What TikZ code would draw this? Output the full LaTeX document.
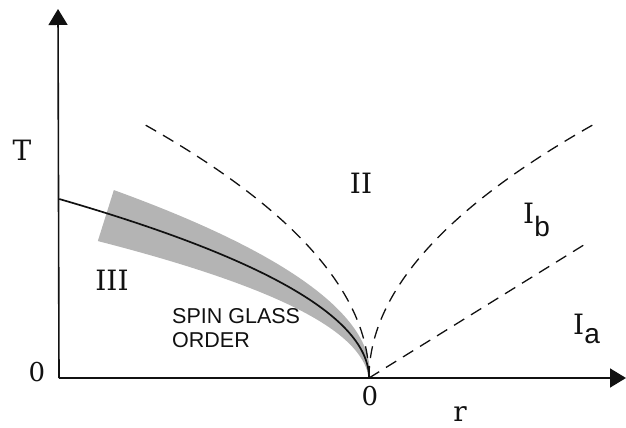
\documentclass[tikz,border=0pt]{standalone}
\usepackage{fontspec}
\setmainfont{DejaVu Serif}
\newfontfamily\pdSans{Liberation Sans}
\usetikzlibrary{
  arrows.meta
}
\definecolor{pdInk}{HTML}{111111}
\definecolor{pdBand}{HTML}{B4B4B4}
\tikzset{
  lbl/.style={font=\fontsize{28}{32}\selectfont, text=pdInk, inner sep=0pt},
  zero/.style={font=\fontsize{26}{30}\selectfont, text=pdInk, inner sep=0pt},
  note/.style={font=\fontsize{21.5}{24}\selectfont\pdSans, text=pdInk, align=left, inner sep=0pt},
  axisline/.style={-{Triangle[length=16pt, width=19pt]}, line width=1.6pt, draw=pdInk},
  critline/.style={line width=1.7pt, draw=pdInk},
  crossline/.style={line width=1.3pt, draw=pdInk, dash pattern=on 12pt off 8pt},
  band/.style={fill=pdBand, draw=none}
}

\begin{document}
\begin{tikzpicture}[x=1pt,y=1pt]

\useasboundingbox (-59,-50) rectangle (567,378);

% --------------------------------------------------------------------------
% Coordinates
% --------------------------------------------------------------------------
\coordinate (origin) at (0,0);
\coordinate (Ttip) at (-1,369);
\coordinate (rtip) at (567,0);
\coordinate (qcp) at (310,0);
\coordinate (Iaend) at (528,135);

% --------------------------------------------------------------------------
% Shaded band round the spin glass line
% --------------------------------------------------------------------------
\fill[band]
  plot[domain=0:16.2, samples=60, variable=\t]
    ({310-\t*\t+1.5*\t*10.17/sqrt(103.4+4*\t*\t)},
     {10.17*\t+1.5*\t*2*\t/sqrt(103.4+4*\t*\t)})
  -- plot[domain=16.2:0, samples=60, variable=\t]
    ({310-\t*\t-1.8*\t*10.17/sqrt(103.4+4*\t*\t)},
     {10.17*\t-1.8*\t*2*\t/sqrt(103.4+4*\t*\t)})
  -- cycle;

% --------------------------------------------------------------------------
% Axes
% --------------------------------------------------------------------------
\draw[axisline] (origin) -- (Ttip);
\draw[axisline] (origin) -- (rtip);

% --------------------------------------------------------------------------
% Crossover lines and the spin glass line
% --------------------------------------------------------------------------
\draw[crossline] (qcp) -- plot[domain=0:255, samples=50, variable=\h]
  ({310-0.0035*\h*\h}, {\h});
\draw[crossline] (qcp) -- plot[domain=0:255, samples=50, variable=\h]
  ({310+0.0035*\h*\h}, {\h});
\draw[crossline] (qcp) -- (Iaend);

\draw[critline] (qcp) -- plot[domain=0:17.6, samples=60, variable=\t]
  ({310-\t*\t}, {10.17*\t});

% --------------------------------------------------------------------------
% Labels
% --------------------------------------------------------------------------
\node[lbl] (Tlabel) at (-37,228) {T};
\node[zero] (zeroT) at (-22,6) {0};
\node[zero] (zeroR) at (311,-18) {0};
\node[lbl, anchor=base] (rlabel) at (401,-43) {r};

\node[lbl] (regIII) at (53,98) {III};
\node[lbl] (regII) at (302,195) {II};
\node[lbl, anchor=base west] (regIb) at (464,154) {I\lower13pt\hbox{\pdSans b}};
\node[lbl, anchor=base west] (regIa) at (514,43) {I\lower9pt\hbox{\pdSans a}};

\node[note, anchor=base west] (sgorder) at (113,30) {SPIN GLASS\\ORDER};

\end{tikzpicture}
\end{document}
